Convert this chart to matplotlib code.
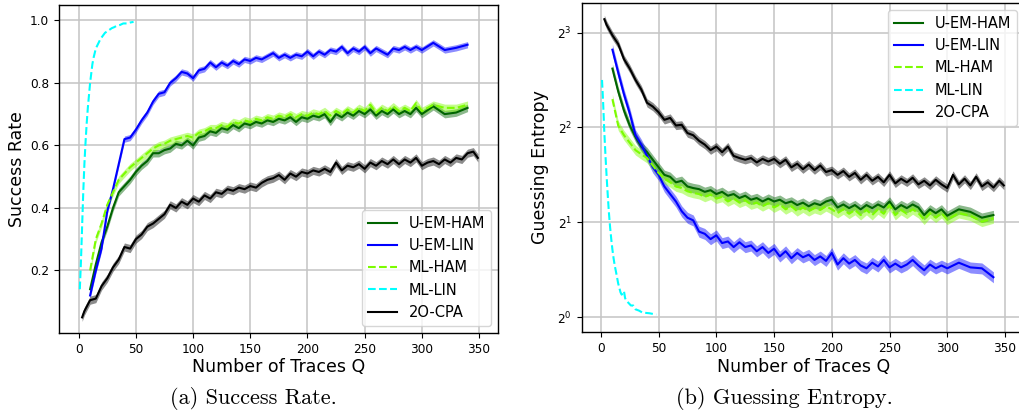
import matplotlib
matplotlib.use("Agg")
import matplotlib.pyplot as plt
import matplotlib.ticker as mticker
import numpy as np

# ---------------- data ----------------
q_main = list(range(10, 301, 5)) + [310, 320, 330, 340]
q_cpa = [3] + list(range(5, 346, 5)) + [349]
q_ml_lin = [1, 2, 3, 4, 5, 6, 7, 8, 9, 10, 11, 12, 13, 14, 15, 17, 19, 21, 23,
            25, 27, 29, 31, 33, 36, 39, 42, 45, 48]

# (a) success rate
sr_uem_lin = [0.12, 0.20, 0.27, 0.39, 0.46, 0.54, 0.62, 0.625, 0.65, 0.68,
              0.705, 0.74, 0.765, 0.77, 0.80, 0.815, 0.835, 0.83, 0.815, 0.84,
              0.845, 0.865, 0.85, 0.865, 0.855, 0.87, 0.86, 0.875, 0.87, 0.88,
              0.875, 0.885, 0.895, 0.88, 0.89, 0.88, 0.89, 0.885, 0.90, 0.885,
              0.90, 0.89, 0.905, 0.90, 0.915, 0.895, 0.91, 0.90, 0.915, 0.895,
              0.91, 0.90, 0.89, 0.91, 0.905, 0.915, 0.905, 0.915, 0.905,
              0.928, 0.905, 0.912, 0.922]
sr_uem_ham = [0.14, 0.22, 0.29, 0.34, 0.40, 0.45, 0.47, 0.49, 0.515, 0.535,
              0.55, 0.575, 0.575, 0.585, 0.59, 0.605, 0.60, 0.615, 0.60, 0.625,
              0.63, 0.645, 0.64, 0.655, 0.65, 0.665, 0.655, 0.67, 0.665, 0.675,
              0.67, 0.68, 0.675, 0.685, 0.68, 0.69, 0.675, 0.69, 0.685, 0.695,
              0.69, 0.70, 0.675, 0.70, 0.69, 0.705, 0.695, 0.71, 0.70, 0.715,
              0.695, 0.71, 0.70, 0.715, 0.70, 0.71, 0.70, 0.72, 0.70,
              0.725, 0.70, 0.705, 0.72]
sr_ml_ham = [0.20, 0.30, 0.35, 0.41, 0.45, 0.49, 0.51, 0.53, 0.545, 0.56,
             0.575, 0.59, 0.60, 0.605, 0.615, 0.62, 0.625, 0.63, 0.625, 0.64,
             0.645, 0.655, 0.655, 0.665, 0.66, 0.675, 0.67, 0.68, 0.675, 0.685,
             0.68, 0.69, 0.685, 0.695, 0.69, 0.70, 0.69, 0.70, 0.695, 0.705,
             0.70, 0.71, 0.695, 0.71, 0.70, 0.715, 0.705, 0.72, 0.71, 0.73,
             0.705, 0.72, 0.71, 0.725, 0.71, 0.72, 0.71, 0.735, 0.71,
             0.73, 0.72, 0.72, 0.73]
sr_ml_lin = [0.14, 0.23, 0.34, 0.45, 0.54, 0.61, 0.67, 0.72, 0.76, 0.80,
             0.83, 0.86, 0.88, 0.895, 0.91, 0.925, 0.94, 0.95, 0.96, 0.965,
             0.97, 0.975, 0.978, 0.982, 0.985, 0.99, 0.99, 0.993, 0.995]
sr_cpa = [0.05, 0.07, 0.105, 0.11, 0.15, 0.175, 0.21, 0.235, 0.275, 0.27,
          0.30, 0.315, 0.34, 0.35, 0.365, 0.38, 0.41, 0.40, 0.42, 0.41,
          0.43, 0.42, 0.44, 0.43, 0.45, 0.445, 0.46, 0.455, 0.465, 0.46,
          0.47, 0.465, 0.48, 0.49, 0.495, 0.505, 0.49, 0.51, 0.50, 0.515,
          0.51, 0.52, 0.515, 0.525, 0.515, 0.545, 0.52, 0.535, 0.53, 0.54,
          0.525, 0.545, 0.535, 0.55, 0.54, 0.555, 0.54, 0.555, 0.545, 0.56,
          0.535, 0.545, 0.55, 0.54, 0.555, 0.545, 0.56, 0.555, 0.575, 0.58,
          0.56]

# (b) guessing entropy
ge_uem_lin = [7.06, 5.98, 5.10, 4.44, 3.78, 3.53, 3.25, 2.99, 2.83, 2.60,
              2.46, 2.33, 2.17, 2.07, 2.03, 1.87, 1.84, 1.77, 1.82, 1.72,
              1.74, 1.67, 1.73, 1.67, 1.69, 1.62, 1.67, 1.60, 1.65, 1.56,
              1.62, 1.54, 1.60, 1.55, 1.58, 1.52, 1.56, 1.51, 1.60, 1.47,
              1.54, 1.48, 1.52, 1.46, 1.43, 1.49, 1.45, 1.52, 1.44, 1.48,
              1.44, 1.47, 1.52, 1.46, 1.41, 1.47, 1.43, 1.46, 1.43,
              1.49, 1.44, 1.43, 1.34]
ge_uem_ham = [6.15, 5.21, 4.53, 4.06, 3.73, 3.48, 3.34, 3.16, 2.99, 2.83,
              2.79, 2.68, 2.71, 2.60, 2.57, 2.55, 2.50, 2.53, 2.46, 2.50,
              2.43, 2.46, 2.39, 2.43, 2.36, 2.39, 2.33, 2.38, 2.33, 2.36,
              2.30, 2.33, 2.27, 2.31, 2.25, 2.30, 2.27, 2.33, 2.36, 2.23,
              2.28, 2.22, 2.27, 2.20, 2.27, 2.22, 2.28, 2.23, 2.33, 2.20,
              2.27, 2.22, 2.28, 2.23, 2.11, 2.20, 2.14, 2.20, 2.10,
              2.20, 2.16, 2.07, 2.11]
ge_ml_ham = [4.92, 4.06, 3.78, 3.58, 3.39, 3.29, 3.20, 3.03, 2.87, 2.75,
             2.68, 2.60, 2.57, 2.51, 2.48, 2.46, 2.41, 2.45, 2.38, 2.41,
             2.33, 2.38, 2.31, 2.35, 2.28, 2.31, 2.25, 2.30, 2.23, 2.28,
             2.20, 2.25, 2.17, 2.23, 2.17, 2.22, 2.19, 2.25, 2.20, 2.14,
             2.20, 2.13, 2.19, 2.11, 2.19, 2.11, 2.20, 2.13, 2.27, 2.11,
             2.19, 2.13, 2.20, 2.14, 2.04, 2.14, 2.07, 2.14, 2.04,
             2.14, 2.10, 2.01, 2.06]
ge_ml_lin = [5.66, 4.76, 3.86, 3.25, 2.79, 2.43, 2.14, 1.93, 1.77, 1.64,
             1.54, 1.46, 1.40, 1.34, 1.28, 1.24, 1.20, 1.18, 1.21, 1.15,
             1.13, 1.11, 1.09, 1.09, 1.06, 1.05, 1.035, 1.03, 1.02]
q_ml_lin_ge = [1, 2, 3, 4, 5, 6, 7, 8, 9, 10, 11, 12, 13, 14, 15, 16, 17, 18,
               20, 21, 22, 24, 26, 28, 30, 33, 36, 42, 48]
ge_cpa = [8.82, 8.46, 7.84, 7.36, 6.59, 6.15, 5.66, 5.28, 4.79, 4.66,
          4.47, 4.23, 4.29, 4.06, 4.08, 3.84, 3.78, 3.63, 3.53, 3.39,
          3.48, 3.34, 3.48, 3.25, 3.20, 3.16, 3.20, 3.10, 3.18, 3.12,
          3.18, 3.07, 3.16, 2.99, 3.07, 2.95, 3.05, 2.93, 3.03, 2.89,
          2.93, 2.83, 2.91, 2.79, 2.87, 2.73, 2.83, 2.71, 2.79, 2.68,
          2.83, 2.66, 2.75, 2.68, 2.77, 2.64, 2.71, 2.62, 2.73, 2.64,
          2.57, 2.83, 2.64, 2.75, 2.62, 2.79, 2.60, 2.68, 2.58, 2.71,
          2.62]

# band half-widths (success rate: absolute; guessing entropy: relative)
sr_band = {"U-EM-HAM": 0.012, "U-EM-LIN": 0.010, "ML-HAM": 0.012, "ML-LIN": 0.0, "2O-CPA": 0.013}
ge_band = {"U-EM-HAM": 0.035, "U-EM-LIN": 0.04, "ML-HAM": 0.035, "ML-LIN": 0.0, "2O-CPA": 0.03}

labels = ["U-EM-HAM", "U-EM-LIN", "ML-HAM", "ML-LIN", "2O-CPA"]
colors = {"U-EM-HAM": "#006400", "U-EM-LIN": "#0000ff", "ML-HAM": "#7cfc00",
          "ML-LIN": "#00ffff", "2O-CPA": "#000000"}
styles = {"U-EM-HAM": "-", "U-EM-LIN": "-", "ML-HAM": "--", "ML-LIN": "--", "2O-CPA": "-"}

sr_data = {"U-EM-HAM": (q_main, sr_uem_ham), "U-EM-LIN": (q_main, sr_uem_lin),
           "ML-HAM": (q_main, sr_ml_ham), "ML-LIN": (q_ml_lin, sr_ml_lin),
           "2O-CPA": (q_cpa, sr_cpa)}
ge_data = {"U-EM-HAM": (q_main, ge_uem_ham), "U-EM-LIN": (q_main, ge_uem_lin),
           "ML-HAM": (q_main, ge_ml_ham), "ML-LIN": (q_ml_lin_ge, ge_ml_lin),
           "2O-CPA": (q_cpa, ge_cpa)}

# ---------------- figure ----------------
W, H = 1019, 416
fig = plt.figure(figsize=(W / 100, H / 100), dpi=100)

ax1 = fig.add_axes([59 / W, 1 - 333 / H, (498 - 59) / W, (333 - 5) / H])
ax2 = fig.add_axes([581.7 / W, 1 - 332 / H, (1024.6 - 581.7) / W, (332 - 2.7) / H])

LW = 1.5
for lab in labels:
    x, y = sr_data[lab]
    x = np.array(x); y = np.array(y)
    b = sr_band[lab]
    if b > 0:
        ax1.fill_between(x, y - b, y + b, color=colors[lab], alpha=0.45, lw=0)
    ax1.plot(x, y, styles[lab], color=colors[lab], lw=LW, label=lab)

for lab in labels:
    x, y = ge_data[lab]
    x = np.array(x); y = np.array(y)
    b = ge_band[lab]
    if b > 0:
        ax2.fill_between(x, y * (1 - b), y * (1 + b), color=colors[lab], alpha=0.45, lw=0)
    ax2.plot(x, y, styles[lab], color=colors[lab], lw=LW, label=lab)

tick_fs = 8.7
label_fs = 12.5
for ax in (ax1, ax2):
    ax.grid(True, color="#c4c4c4", lw=1.1)
    ax.set_axisbelow(True)
    ax.tick_params(labelsize=tick_fs, direction="out", length=3.5, width=0.8)
    ax.set_xticks([0, 50, 100, 150, 200, 250, 300, 350])
    ax.set_xlabel("Number of Traces Q", fontsize=label_fs, labelpad=2)
    for s in ax.spines.values():
        s.set_linewidth(1.0)

ax1.set_xlim(-17.2, 366.6)
ax1.set_ylim(0.0, 1.049)
ax1.set_yticks([0.2, 0.4, 0.6, 0.8, 1.0])
ax1.set_ylabel("Success Rate", fontsize=label_fs, labelpad=3)
ax1.legend(loc="lower right", fontsize=10.5, framealpha=0.8)

ax2.set_xlim(-16.6, 367.0)
ax2.set_yscale("log", base=2)
ax2.set_ylim(2 ** -0.155, 2 ** 3.315)
ax2.yaxis.set_major_locator(mticker.FixedLocator([1, 2, 4, 8]))
ax2.yaxis.set_major_formatter(mticker.FuncFormatter(
    lambda v, p: r"$\mathdefault{2^{%d}}$" % int(round(np.log2(v)))))
ax2.yaxis.set_minor_locator(mticker.NullLocator())
ax2.set_ylabel("Guessing Entropy", fontsize=label_fs, labelpad=6)
ax2.legend(loc="upper right", fontsize=10.5, framealpha=0.8)

cap_font = dict(family=["cmr10", "DejaVu Serif"], fontsize=16, ha="center", va="center")
fig.text(253 / W, 1 - 399 / H, "(a) Success Rate.", **cap_font)
fig.text(784 / W, 1 - 399 / H, "(b) Guessing Entropy.", **cap_font)

fig.savefig("out.png", dpi=100)
